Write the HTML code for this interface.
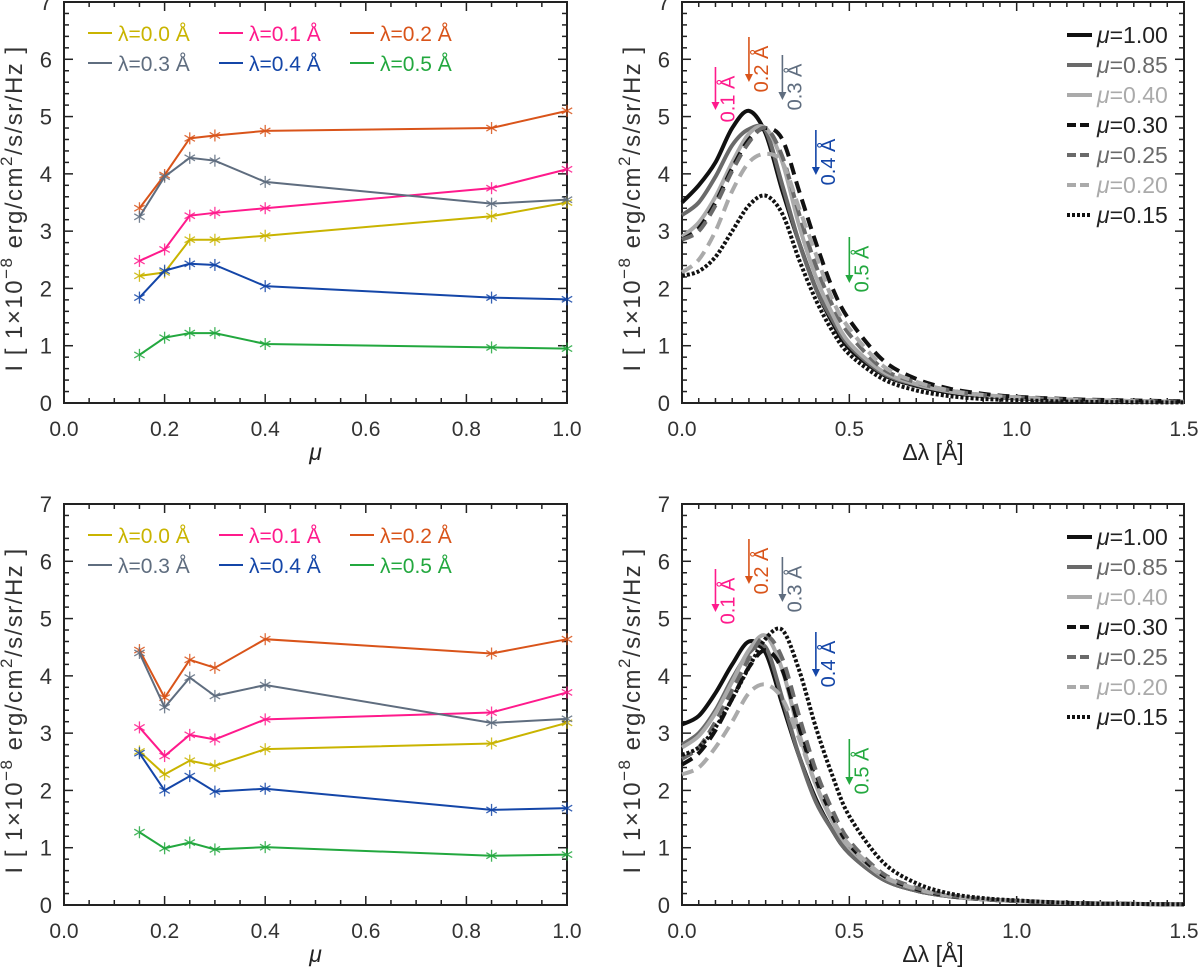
<!DOCTYPE html>
<html><head><meta charset="utf-8"><style>
body{margin:0;background:#fff}
svg{display:block;font-family:"Liberation Sans","DejaVu Sans",sans-serif}
</style></head><body>
<svg id="fig" width="1200" height="971" viewBox="0 0 1200 971" xmlns="http://www.w3.org/2000/svg"></svg>
<script>
const muVals=[0.15,0.2,0.25,0.3,0.4,0.85,1.0];
const lamLabels=["λ=0.0 Å","λ=0.1 Å","λ=0.2 Å","λ=0.3 Å","λ=0.4 Å","λ=0.5 Å"];
const tlL00=[2.22,2.28,2.85,2.85,2.92,3.26,3.5];
const tlL01=[2.48,2.68,3.27,3.32,3.40,3.75,4.08];
const tlL02=[3.40,3.98,4.62,4.67,4.75,4.80,5.10];
const tlL03=[3.25,3.95,4.28,4.23,3.86,3.48,3.55];
const tlL04=[1.84,2.31,2.43,2.41,2.04,1.84,1.81];
const tlL05=[0.84,1.14,1.22,1.22,1.03,0.97,0.95];
const blL00=[2.68,2.28,2.52,2.43,2.72,2.82,3.18];
const blL01=[3.10,2.60,2.97,2.89,3.24,3.36,3.71];
const blL02=[4.45,3.62,4.28,4.14,4.64,4.39,4.64];
const blL03=[4.40,3.45,3.97,3.65,3.84,3.18,3.25];
const blL04=[2.65,2.00,2.25,1.98,2.03,1.66,1.69];
const blL05=[1.27,0.99,1.09,0.97,1.01,0.86,0.88];
const dl=[0,0.05,0.1,0.15,0.2,0.25,0.3,0.35,0.4,0.45,0.5,0.6,0.7,0.8,0.9,1.0,1.2,1.5];
const muLabels=["μ=1.00","μ=0.85","μ=0.40","μ=0.30","μ=0.25","μ=0.20","μ=0.15"];
const trM100=[3.5,3.8,4.2,4.8,5.1,4.7,3.7,2.8,2.0,1.4,0.95,0.5,0.3,0.18,0.12,0.08,0.04,0.02];
const trM085=[3.28,3.5,3.95,4.5,4.78,4.75,3.8,2.8,2.0,1.45,1.0,0.52,0.32,0.2,0.13,0.09,0.05,0.02];
const trM040=[2.9,3.15,3.6,4.2,4.7,4.8,4.2,3.1,2.2,1.55,1.05,0.55,0.33,0.2,0.13,0.09,0.05,0.02];
const trM030=[2.85,3.05,3.5,4.1,4.6,4.8,4.6,3.7,2.8,2.0,1.45,0.75,0.42,0.25,0.16,0.11,0.06,0.03];
const trM025=[2.85,3.0,3.45,4.05,4.55,4.8,4.3,3.3,2.4,1.7,1.2,0.6,0.36,0.22,0.14,0.1,0.05,0.02];
const trM020=[2.28,2.5,3.0,3.7,4.2,4.35,4.2,3.4,2.6,1.8,1.3,0.65,0.37,0.22,0.14,0.1,0.05,0.02];
const trM015=[2.22,2.3,2.55,3.0,3.45,3.62,3.3,2.5,1.8,1.25,0.85,0.42,0.22,0.12,0.07,0.05,0.02,0.01];
const brM100=[3.15,3.3,3.7,4.2,4.6,4.4,3.5,2.6,1.85,1.3,0.9,0.45,0.25,0.15,0.1,0.07,0.03,0.01];
const brM085=[2.8,3.0,3.4,3.95,4.4,4.5,3.6,2.6,1.8,1.3,0.9,0.45,0.25,0.15,0.1,0.07,0.03,0.01];
const brM040=[2.75,2.95,3.35,3.9,4.45,4.7,4.1,3.0,2.1,1.45,1.0,0.5,0.28,0.16,0.1,0.07,0.03,0.01];
const brM030=[2.45,2.65,3.05,3.6,4.15,4.45,4.1,3.1,2.2,1.55,1.05,0.52,0.28,0.16,0.1,0.07,0.03,0.01];
const brM025=[2.55,2.75,3.2,3.75,4.3,4.7,4.3,3.3,2.35,1.65,1.12,0.55,0.3,0.17,0.1,0.07,0.03,0.01];
const brM020=[2.28,2.4,2.75,3.2,3.7,3.85,3.6,2.9,2.1,1.5,1.05,0.52,0.28,0.16,0.1,0.07,0.03,0.01];
const brM015=[2.62,2.75,3.1,3.6,4.15,4.65,4.8,4.1,3.1,2.25,1.55,0.75,0.38,0.2,0.12,0.08,0.03,0.01];
const arrowPos=[0.1,0.2,0.3,0.4,0.5];
const arrowLabels=["0.1 Å","0.2 Å","0.3 Å","0.4 Å","0.5 Å"];

const lamColors=["#c9b400","#ff1a8c","#d9541a","#5f6d7f","#1446a8","#23a83f"];
const muStyles=[{c:"#111",d:""},{c:"#6a6a6a",d:""},{c:"#aaa",d:""},{c:"#111",d:"12,7"},{c:"#6a6a6a",d:"12,7"},{c:"#aaa",d:"12,7"},{c:"#111",d:"3,2"}];
const NS="http://www.w3.org/2000/svg";
const svg=document.getElementById("fig");
function mk(tag,attrs,parent,text){const e=document.createElementNS(NS,tag);for(const k in attrs)e.setAttribute(k,attrs[k]);if(text!==undefined)e.textContent=text;(parent||svg).appendChild(e);return e;}

function smoothPath(pts){let d="M"+pts[0][0]+","+pts[0][1];for(let i=0;i<pts.length-1;i++){const p0=pts[Math.max(0,i-1)],p1=pts[i],p2=pts[i+1],p3=pts[Math.min(pts.length-1,i+2)];const t=0.16;d+=" C"+(p1[0]+(p2[0]-p0[0])*t)+","+(p1[1]+(p2[1]-p0[1])*t)+" "+(p2[0]-(p3[0]-p1[0])*t)+","+(p2[1]-(p3[1]-p1[1])*t)+" "+p2[0]+","+p2[1];}return d;}

function panel(name,L,R,T,B,xmax,xMajor,xMinor,xtitle){
  const g=mk("g",{});
  
  
  const X=v=>L+(R-L)*v/xmax, Y=v=>B-(B-T)*v/7;
  mk("rect",{x:L,y:T,width:R-L,height:B-T,fill:"none",stroke:"#222","stroke-width":2},g);
  for(let v=0;v<=7.001;v+=0.2){const maj=Math.abs(v-Math.round(v))<1e-6;const len=maj?9:5;const y=Y(v);
    mk("line",{x1:L,x2:L+len,y1:y,y2:y,stroke:"#222","stroke-width":1.5},g);
    mk("line",{x1:R,x2:R-len,y1:y,y2:y,stroke:"#222","stroke-width":1.5},g);
    if(maj){const t=mk("text",{x:L-12,y:y+8,"text-anchor":"end","font-size":22,fill:"#333"},g,String(Math.round(v)));
      
      }}
  const n=Math.round(xmax/xMinor);
  for(let i=0;i<=n;i++){const v=i*xMinor;const maj=Math.abs(v/xMajor-Math.round(v/xMajor))<1e-6;const len=maj?9:5;const x=X(v);
    mk("line",{x1:x,x2:x,y1:B,y2:B-len,stroke:"#222","stroke-width":1.5},g);
    mk("line",{x1:x,x2:x,y1:T,y2:T+len,stroke:"#222","stroke-width":1.5},g);
    if(maj){const t=mk("text",{x:x,y:B+33,"text-anchor":"middle","font-size":21,fill:"#333"},g,v.toFixed(1));
      
      }}
  const xt=mk("text",{x:(L+R)/2,y:B+57,"text-anchor":"middle","font-size":23,fill:"#222","font-style":xtitle==="μ"?"italic":"normal"},g,xtitle);
  
  
  const yt=mk("text",{transform:"translate("+(L-42)+","+((T+B)/2+6)+") rotate(-90)","text-anchor":"middle","font-size":24,fill:"#333","letter-spacing":"1.5"},g);
  
  
  mk("tspan",{},yt,"I  [ 1×10");mk("tspan",{dy:-10,"font-size":17},yt,"−8");mk("tspan",{dy:10},yt,"  erg/cm");mk("tspan",{dy:-10,"font-size":17},yt,"2");mk("tspan",{dy:10},yt,"/s/sr/Hz ]");
  return {g,X,Y};
}

function muPanel(name,T,B,series){
  const p=panel(name,64,567,T,B,1.0,0.2,0.05,"μ");
  series.forEach((s,k)=>{
    const pts=muVals.map((m,i)=>[p.X(m),p.Y(s[i])]);
    const l=mk("polyline",{points:pts.map(q=>q.join(",")).join(" "),fill:"none",stroke:lamColors[k],"stroke-width":2},p.g);
    
    
    pts.forEach(q=>{const a=mk("g",{stroke:lamColors[k],"stroke-width":1.3,opacity:0.85},p.g);
      
      
      for(let ang=0;ang<180;ang+=60){const r=6,c=Math.cos(ang*Math.PI/180+Math.PI/2)*r,sn=Math.sin(ang*Math.PI/180+Math.PI/2)*r;mk("line",{x1:q[0]-c,y1:q[1]-sn,x2:q[0]+c,y2:q[1]+sn},a);}});
    const col=k%3,row=Math.floor(k/3);const lx=88+col*131,ly=T+31+row*30;
    const le=mk("g",{},p.g);
    
    
    mk("line",{x1:lx,x2:lx+24,y1:ly,y2:ly,stroke:lamColors[k],"stroke-width":2},le);
    mk("text",{x:lx+30,y:ly+8,"font-size":21,fill:lamColors[k]},le,lamLabels[k]);
  });
}
function profPanel(name,T,B,series){
  const p=panel(name,682,1184,T,B,1.5,0.5,0.05,"Δλ  [Å]");
  series.forEach((s,k)=>{
    const pts=dl.map((x,i)=>[p.X(x),p.Y(s[i])]);
    const a={d:smoothPath(pts),fill:"none",stroke:muStyles[k].c,"stroke-width":4};
    if(muStyles[k].d)a["stroke-dasharray"]=muStyles[k].d;
    const l=mk("path",a,p.g);
    
    
    const ly=T+33+k*30;
    const le=mk("g",{},p.g);
    
    
    const la={x1:1067,x2:1092,y1:ly,y2:ly,stroke:muStyles[k].c,"stroke-width":4};
    if(muStyles[k].d)la["stroke-dasharray"]=k===6?"3,2":"9,4";
    mk("line",la,le);
    const t=mk("text",{x:1097,y:ly+8,"font-size":23,fill:muStyles[k].c==="#111"?"#222":muStyles[k].c},le);
    mk("tspan",{"font-style":"italic"},t,"μ");mk("tspan",{},t,muLabels[k].slice(1));
  });
  const ay=[[67,110],[37,82],[55,100],[130,175],[237,283]];
  arrowPos.forEach((v,i)=>{const x=p.X(v),y1=T-2+ay[i][0],y2=T-2+ay[i][1],c=lamColors[i+1];
    const a=mk("g",{},p.g);
    
    
    mk("line",{x1:x,x2:x,y1:y1,y2:y2-6,stroke:c,"stroke-width":1.6},a);
    mk("polygon",{points:(x-4)+","+(y2-8)+" "+(x+4)+","+(y2-8)+" "+x+","+y2,fill:c},a);
    mk("text",{transform:"translate("+(x+19)+","+(y1+32)+") rotate(-90)","text-anchor":"middle","font-size":20,fill:c},a,arrowLabels[i]);
  });
}
muPanel("top-left-panel",2,403,[tlL00,tlL01,tlL02,tlL03,tlL04,tlL05]);
profPanel("top-right-panel",2,403,[trM100,trM085,trM040,trM030,trM025,trM020,trM015]);
muPanel("bottom-left-panel",504,905,[blL00,blL01,blL02,blL03,blL04,blL05]);
profPanel("bottom-right-panel",504,905,[brM100,brM085,brM040,brM030,brM025,brM020,brM015]);
</script>
</body></html>
